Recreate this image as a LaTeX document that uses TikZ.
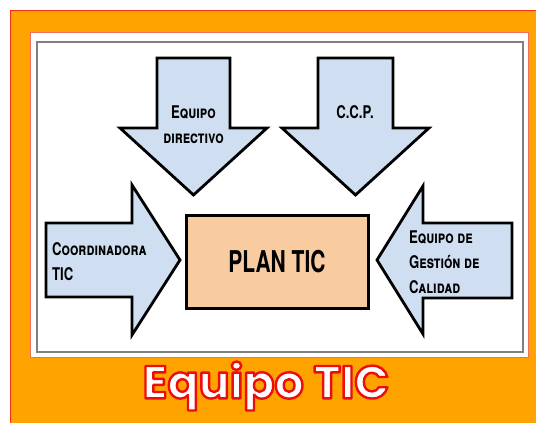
\documentclass[tikz,border=0pt]{standalone}
\usepackage{fontspec}
\setmainfont{TeX Gyre Heros}
\newfontfamily\arrowfont{TeX Gyre Heros}[FakeStretch=0.75]
\newfontfamily\planfont{TeX Gyre Heros}[FakeStretch=0.7]
\newfontfamily\titlefont{Poppins}
\definecolor{bgorange}{HTML}{FFA300}
\definecolor{bordred}{HTML}{F03010}
\definecolor{lightred}{HTML}{F07060}
\definecolor{arrowblue}{HTML}{CFDFF1}
\definecolor{planpeach}{HTML}{F8CBA0}
\newcommand{\strokeon}{\special{pdf:literal direct 1 j 2 Tr 2.4 w 0.93 0.05 0.05 RG}}
\newcommand{\strokeoff}{\special{pdf:literal direct 0 Tr}}
\begin{document}
\begin{tikzpicture}[x=1pt,y=-1pt,
  arrowshape/.style={draw=black, line width=2.8pt, fill=arrowblue, line join=miter},
  arrowtext/.style={font=\arrowfont\bfseries\scshape\fontsize{17.5}{25}\selectfont, inner sep=0pt},
  planbox/.style={draw=black, line width=3pt, fill=planpeach},
]
\useasboundingbox (0,0) rectangle (536,423);
% background
\fill[white] (0,0) rectangle (536,423);
\filldraw[fill=bgorange, draw=bordred, line width=1pt] (10.5,10.5) rectangle (540,430);
\filldraw[fill=white, draw=lightred, line width=1pt] (30,32) rectangle (528,357);
\draw[gray, line width=1.5pt] (37,42) rectangle (523,352);
% down arrows
\filldraw[arrowshape] (157,58) -- (230,58) -- (230,128) -- (267,128) -- (193.5,195) -- (120,128) -- (157,128) -- cycle;
\filldraw[arrowshape] (318,58) -- (393,58) -- (393,128) -- (429,128) -- (355.5,195) -- (282,128) -- (318,128) -- cycle;
% right-pointing arrow
\filldraw[arrowshape] (46,223) -- (132,223) -- (132,185) -- (180,260) -- (132,335) -- (132,297) -- (46,297) -- cycle;
% left-pointing arrow
\filldraw[arrowshape] (512,223) -- (423,223) -- (423,186) -- (377,260) -- (423,334) -- (423,298) -- (512,298) -- cycle;
% plan box
\node[planbox, minimum width=182pt, minimum height=93pt, inner sep=0pt,
  font=\planfont\bfseries\fontsize{30}{30}\selectfont] (plan) at (277,261.5) {PLAN TIC};
% arrow texts
\node[arrowtext, align=center] (dir) at (193.5,125) {Equipo\\directivo};
\node[arrowtext, align=center] (ccp) at (355,112) {C.C.P.};
\node[arrowtext, align=left, anchor=west] (coord) at (52,262) {Coordinadora\\TIC};
\node[arrowtext, align=left, anchor=west] (cal) at (409,262) {Equipo de\\Gestión de\\Calidad};
% title
\node[text=white, font=\titlefont\bfseries\fontsize{46}{46}\selectfont, inner sep=0pt] (title) at (266,386) {\strokeon Equipo TIC\strokeoff};
\end{tikzpicture}
\end{document}
